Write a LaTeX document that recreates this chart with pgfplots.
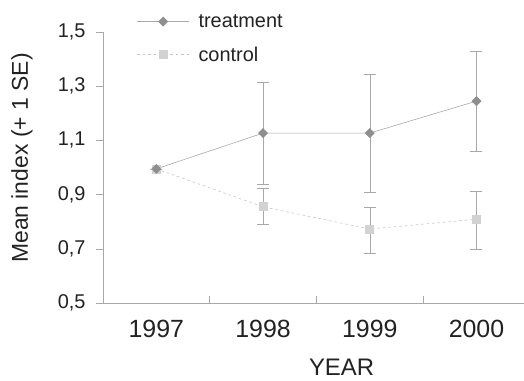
\documentclass[border=0pt]{standalone}
\usepackage{pgfplots}
\pgfplotsset{compat=1.18}
\usepackage{fontspec}
\setmainfont{Liberation Sans}
\definecolor{tline}{HTML}{A8A8A8}
\definecolor{tmark}{HTML}{8E8E8E}
\definecolor{cline}{HTML}{C4C4C4}
\definecolor{cmark}{HTML}{D2D2D2}
\definecolor{axgray}{HTML}{A8A8A8}
\definecolor{ebar}{HTML}{A8A8A8}
\definecolor{txt}{HTML}{222222}
\begin{document}
\begin{tikzpicture}
\path[use as bounding box] (-103bp,-78bp) rectangle (421bp,303bp);
\begin{axis}[
  scale only axis,
  width=421.5bp, height=271bp,
  xmin=0.5, xmax=4.45, ymin=0.5, ymax=1.5,
  axis x line*=bottom, axis y line*=left,
  axis line style={axgray, line width=0.6pt, -},
  tick align=outside,
  major tick length=7bp,
  xtick={1.5,2.5,3.5},
  xticklabels={},
  major x tick style={axgray, line width=0.6pt, yshift=7bp},
  extra x ticks={1,2,3,4},
  extra x tick labels={1997,1998,1999,2000},
  extra x tick style={major tick length=0pt, tick label style={font=\fontsize{25}{25}\selectfont, yshift=-14bp, text=txt}},
  ytick={0.5,0.7,0.9,1.1,1.3,1.5},
  yticklabels={{0,5},{0,7},{0,9},{1,1},{1,3},{1,5}},
  y tick label style={font=\fontsize{20}{20}\selectfont, xshift=-7bp, text=txt},
  major y tick style={axgray, line width=0.6pt},
  xlabel={YEAR},
  xlabel style={font=\fontsize{24}{24}\selectfont, at={(axis description cs:0.566,-0.238)}, anchor=center, inner sep=0pt, text=txt},
  ylabel={Mean index (+ 1 SE)},
  ylabel style={font=\fontsize{23}{23}\selectfont, at={(axis description cs:-0.192,0.535)}, anchor=center, text=txt},
  legend style={at={(axis description cs:0.08,1.073)}, anchor=north west, draw=none, fill=none,
    font=\fontsize{20}{20}\selectfont, text=txt, row sep=14bp, column sep=7bp, inner sep=0pt, cells={anchor=west}},
  legend cell align=left,
  reverse legend,
  legend image code/.code={\draw[mark repeat=2,mark phase=2,#1] plot coordinates {(0bp,0bp) (26bp,0bp) (52bp,0bp)};},
  clip=false,
]
\addplot[cline, line width=0.6pt, dash pattern=on 2.5pt off 3pt,
  mark=square*, mark size=4bp, mark options={solid, draw=cmark, fill=cmark},
  error bars/.cd, y dir=both, y explicit, error mark options={rotate=90, mark size=6bp, ebar, line width=0.5pt},
  error bar style={ebar, line width=0.5pt, solid}]
  table[x=x, y=y, y error plus=ep, y error minus=em] {
x y ep em
1 0.995 0 0
2 0.855 0.067 0.065
3 0.773 0.081 0.088
4 0.809 0.105 0.110
};
\addplot[tline, line width=0.6pt,
  mark=diamond*, mark size=6bp, mark options={draw=tmark, fill=tmark, yscale=0.75},
  error bars/.cd, y dir=both, y explicit, error mark options={rotate=90, mark size=6bp, ebar, line width=0.5pt},
  error bar style={ebar, line width=0.5pt}]
  table[x=x, y=y, y error plus=ep, y error minus=em] {
x y ep em
1 0.995 0 0
2 1.127 0.189 0.188
3 1.127 0.218 0.220
4 1.245 0.185 0.185
};
\legend{control,treatment}
\end{axis}
\end{tikzpicture}
\end{document}
